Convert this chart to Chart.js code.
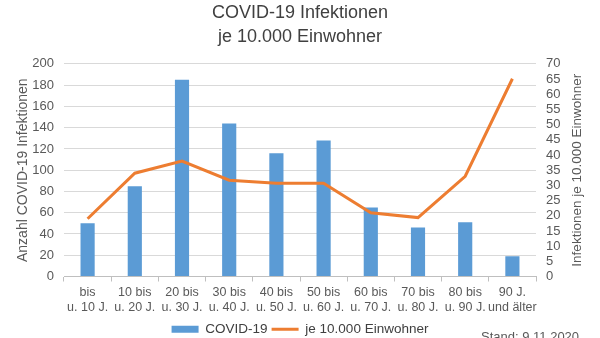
<!DOCTYPE html>
<html>
<head>
<meta charset="utf-8">
<script src="https://cdn.jsdelivr.net/npm/chart.js@4.4.1/dist/chart.umd.min.js"></script>
<style>
  html, body { margin: 0; padding: 0; background: #fff; }
  #wrap { width: 600px; height: 338px; }
</style>
</head>
<body>
<div id="wrap"><canvas id="c"></canvas></div>
<script>
const ageGroups = [
  ['bis', 'u. 10 J.'], ['10 bis', 'u. 20 J.'], ['20 bis', 'u. 30 J.'], ['30 bis', 'u. 40 J.'],
  ['40 bis', 'u. 50 J.'], ['50 bis', 'u. 60 J.'], ['60 bis', 'u. 70 J.'], ['70 bis', 'u. 80 J.'],
  ['80 bis', 'u. 90 J.'], ['90 J.', 'und älter']
];
const infections = [50, 85, 185, 144, 116, 128, 65, 46, 51, 19];
const per10k = [19, 34, 38, 31.7, 30.7, 30.7, 21, 19.4, 33, 65.1];
const leftTicks = { min: 0, max: 200, step: 20 };
const rightTicks = { min: 0, max: 70, step: 5 };
const rightTitle = 'Infektionen je 10.000 Einwohner';
const standText = 'Stand: 9.11.2020';

const grey = '#595959';
const font = 'Liberation Sans, Arial, sans-serif';

// right axis title reads bottom-to-top like the left one, and the date note
const extrasPlugin = {
  id: 'extras',
  afterDraw(chart){
    const ctx = chart.ctx;
    const a = chart.chartArea;
    ctx.save();
    ctx.fillStyle = grey;
    ctx.font = '13.5px ' + font;
    ctx.textAlign = 'center';
    ctx.textBaseline = 'middle';
    ctx.translate(577, (a.top + a.bottom) / 2);
    ctx.rotate(-Math.PI / 2);
    ctx.fillText(rightTitle, 0, 0);
    ctx.restore();

    ctx.save();
    ctx.font = '13px ' + font;
    ctx.fillStyle = grey;
    ctx.textBaseline = 'top';
    ctx.textAlign = 'left';
    ctx.fillText(standText, 481, 331);
    ctx.restore();
  }
};

new Chart(document.getElementById('c'), {
  data: {
    labels: ageGroups,
    datasets: [
      {
        type: 'bar',
        label: 'COVID-19',
        data: infections,
        backgroundColor: '#5B9BD5',
        barPercentage: 0.3,
        categoryPercentage: 1,
        yAxisID: 'y',
        order: 1,
        pointStyle: 'rect'
      },
      {
        type: 'line',
        label: 'je 10.000 Einwohner',
        data: per10k,
        borderColor: '#ED7D31',
        backgroundColor: '#ED7D31',
        borderWidth: 3,
        pointRadius: 0,
        tension: 0,
        yAxisID: 'y1',
        order: 0,
        pointStyle: 'line'
      }
    ]
  },
  options: {
    responsive: true,
    maintainAspectRatio: false,
    animation: false,
    layout: { padding: { top: 0, left: 0, right: 0, bottom: -8 } },
    plugins: {
      title: {
        display: true,
        text: ['COVID-19 Infektionen', 'je 10.000 Einwohner'],
        color: '#404040',
        font: { family: font, size: 18, weight: 'normal', lineHeight: 1.33 },
        padding: { top: 1, bottom: 15 }
      },
      legend: {
        position: 'bottom',
        labels: {
          usePointStyle: true,
          pointStyleWidth: 27,
          boxHeight: 7,
          color: '#404040',
          font: { family: font, size: 13.5 },
          padding: 4,
          sort: (a, b) => a.datasetIndex - b.datasetIndex
        }
      },
      tooltip: { enabled: false }
    },
    scales: {
      x: {
        offset: true,
        grid: { display: true, drawOnChartArea: false, tickLength: 5, color: '#bfbfbf', offset: true },
        border: { color: '#bfbfbf' },
        ticks: { color: grey, font: { family: font, size: 12.5, lineHeight: 1.25 }, padding: 3, maxRotation: 0, autoSkip: false },
        afterFit(s){ s.height = 42; }
      },
      y: {
        position: 'left',
        min: leftTicks.min, max: leftTicks.max,
        ticks: { stepSize: leftTicks.step, autoSkip: false, color: grey, font: { family: font, size: 13 }, padding: 10 },
        grid: { color: '#d9d9d9', drawTicks: false },
        border: { display: false },
        title: { display: true, text: 'Anzahl COVID-19 Infektionen', color: grey, font: { family: font, size: 14 }, padding: { top: 15, bottom: 0 } },
        afterFit(s){ s.width = 64; }
      },
      y1: {
        position: 'right',
        min: rightTicks.min, max: rightTicks.max,
        ticks: { stepSize: rightTicks.step, autoSkip: false, color: grey, font: { family: font, size: 13 }, padding: 10 },
        grid: { drawOnChartArea: false, drawTicks: false },
        border: { display: false },
        afterFit(s){ s.width = 64; }
      }
    }
  },
  plugins: [extrasPlugin]
});
</script>
</body>
</html>
